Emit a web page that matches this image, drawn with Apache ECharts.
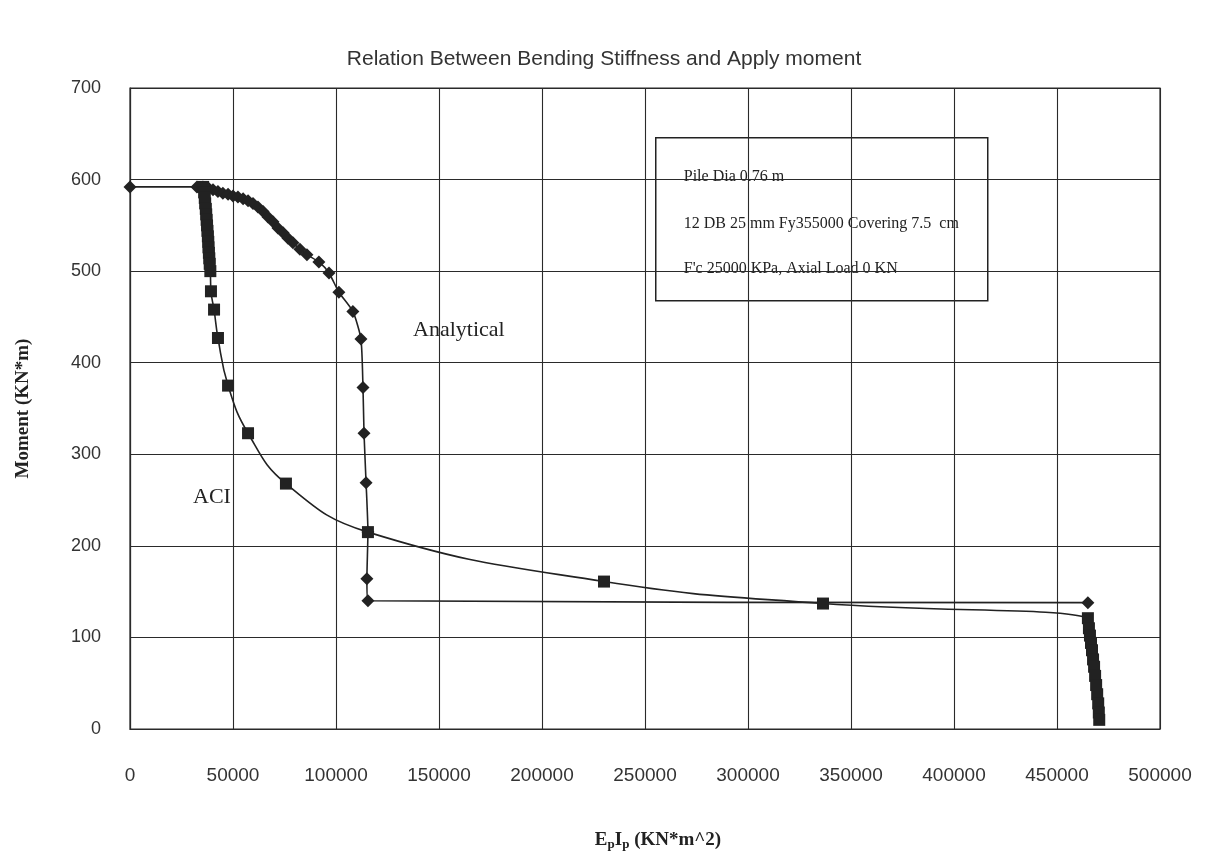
<!DOCTYPE html>
<html>
<head>
<meta charset="utf-8">
<script src="https://cdn.jsdelivr.net/npm/echarts@6/dist/echarts.min.js"></script>
<style>
  html, body { margin: 0; padding: 0; background: #fff; }
  #chart { width: 1208px; height: 864px; }
</style>
</head>
<body>
<div id="chart"></div>
<script>
// Analytical curve (diamonds): [EpIp, Moment]
var analyticalData = [
  [0, 592], [32500, 592], [35400, 592], [37900, 591], [40300, 589], [42700, 587],
  [45100, 585], [47600, 584], [50000, 582], [52400, 581], [54900, 579], [57300, 577],
  [59700, 574], [62100, 570], [64600, 565], [67000, 559], [69400, 554], [71800, 547],
  [74300, 542], [76700, 536], [79100, 531], [82500, 524], [85900, 518], [91700, 510],
  [96600, 498], [101400, 477], [108200, 456], [112100, 426], [113100, 373], [113600, 323],
  [114600, 269], [115500, 215], [115000, 164], [115500, 140], [465000, 138]
];

// ACI curve (squares)
var aciData = [
  [35500, 592], [36000, 586], [36300, 580], [36500, 574], [36800, 568], [37000, 562],
  [37200, 556], [37400, 550], [37600, 544], [37800, 538], [38000, 532], [38100, 526],
  [38300, 520], [38500, 514], [38700, 508], [39000, 500], [39300, 478], [40800, 458],
  [42700, 427], [47600, 375], [57300, 323], [75700, 268], [115500, 215], [230100, 161],
  [336400, 137], [465000, 121], [465500, 110], [466000, 102], [466500, 94], [467000, 86],
  [467500, 76], [468000, 68], [468500, 58], [469000, 48], [469500, 38], [470000, 28],
  [470300, 18], [470500, 10]
];

var xTicks = { min: 0, max: 500000, interval: 50000 };
var yTicks = { min: 0, max: 700, interval: 100 };

var infoLines = [
  "Pile Dia 0.76 m",
  "12 DB 25 mm Fy355000 Covering 7.5  cm",
  "F'c 25000 KPa, Axial Load 0 KN"
];

var chart = echarts.init(document.getElementById('chart'));

var serif = '"Liberation Serif", "Times New Roman", serif';
var sans = '"Liberation Sans", Arial, sans-serif';
var lineColor = '#222';
var gridColor = '#2a2a2a';

var option = {
  backgroundColor: '#fff',
  animation: false,
  title: {
    text: 'Relation Between Bending Stiffness and Apply moment',
    left: 'center',
    top: 44,
    textStyle: { fontFamily: sans, fontSize: 21, fontWeight: 'normal', color: '#333' }
  },
  grid: {
    left: 130, right: 48, top: 88, bottom: 135,
    show: true, borderColor: gridColor, borderWidth: 1.2
  },
  xAxis: {
    type: 'value',
    min: xTicks.min, max: xTicks.max, interval: xTicks.interval,
    axisLine: { show: true, lineStyle: { color: gridColor, width: 1.2 } },
    axisTick: { show: false },
    splitLine: { show: true, lineStyle: { color: gridColor, width: 1.1 } },
    axisLabel: {
      margin: 37, fontFamily: sans, fontSize: 19, color: '#333',
      formatter: function (v) { return String(v); }
    },
    name: 'E{s|p}I{s|p} (KN*m^2)',
    nameLocation: 'middle',
    nameGap: 101,
    nameTextStyle: {
      fontFamily: serif, fontSize: 19, fontWeight: 'bold', color: '#222',
      padding: [0, 0, 0, 26],
      rich: {
        s: { fontFamily: serif, fontSize: 13, fontWeight: 'bold', color: '#222', verticalAlign: 'bottom', padding: [8, 0, 0, 0] }
      }
    }
  },
  yAxis: {
    type: 'value',
    min: yTicks.min, max: yTicks.max, interval: yTicks.interval,
    axisLine: { show: true, lineStyle: { color: gridColor, width: 1.2 } },
    axisTick: { show: false },
    splitLine: { show: true, lineStyle: { color: gridColor, width: 1.1 } },
    axisLabel: { margin: 29, fontFamily: sans, fontSize: 18, color: '#333' },
    name: 'Moment (KN*m)',
    nameLocation: 'middle',
    nameGap: 97,
    nameTextStyle: { fontFamily: serif, fontSize: 19, fontWeight: 'bold', color: '#222' }
  },
  series: [
    {
      name: 'Analytical',
      type: 'line',
      data: analyticalData,
      smooth: 0.2,
      symbol: 'diamond',
      symbolSize: 13,
      lineStyle: { color: lineColor, width: 1.6 },
      itemStyle: { color: lineColor },
      z: 3
    },
    {
      name: 'ACI',
      type: 'line',
      data: aciData,
      smooth: 0.45,
      symbol: 'rect',
      symbolSize: 12,
      lineStyle: { color: lineColor, width: 1.6 },
      itemStyle: { color: lineColor },
      z: 4
    }
  ],
  graphic: [
    {
      type: 'group',
      left: 655, top: 137,
      z: 10,
      children: [
        { type: 'rect', shape: { x: 0, y: 0, width: 332, height: 163 },
          style: { fill: '#fff', stroke: '#222', lineWidth: 1.5 } },
        { type: 'text', x: 28, y: 39, style: { text: infoLines[0], font: '16px ' + serif, fill: '#222', textVerticalAlign: 'middle' } },
        { type: 'text', x: 28, y: 86, style: { text: infoLines[1], font: '16px ' + serif, fill: '#222', textVerticalAlign: 'middle' } },
        { type: 'text', x: 28, y: 131, style: { text: infoLines[2], font: '16px ' + serif, fill: '#222', textVerticalAlign: 'middle' } }
      ]
    },
    {
      type: 'group', left: 398, top: 286, z: 2,
      children: [
        { type: 'rect', shape: { x: 0, y: 0, width: 148, height: 70 }, style: { fill: '#fff' } },
        { type: 'text', x: 15, y: 44, style: { text: 'Analytical', font: '22px ' + serif, fill: '#222', textVerticalAlign: 'middle' } }
      ]
    },
    {
      type: 'group', left: 173, top: 479, z: 2,
      children: [
        { type: 'rect', shape: { x: 0, y: 0, width: 99, height: 70 }, style: { fill: '#fff' } },
        { type: 'text', x: 20, y: 18, style: { text: 'ACI', font: '22px ' + serif, fill: '#222', textVerticalAlign: 'middle' } }
      ]
    }
  ]
};

chart.setOption(option);
</script>
</body>
</html>
